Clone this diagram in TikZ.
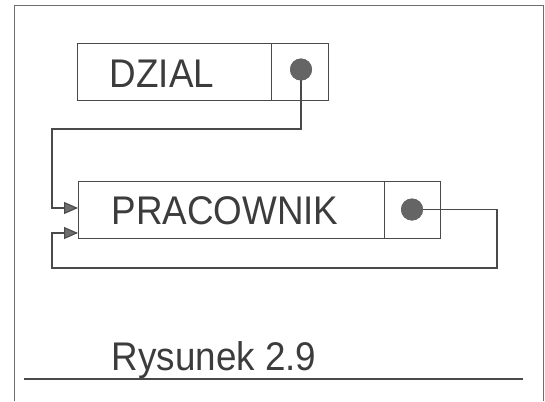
\documentclass[tikz,border=0pt]{standalone}
\usepackage{fontspec}
\newfontfamily\hv[FakeStretch=0.92]{Liberation Sans}
\usetikzlibrary{arrows.meta}
\definecolor{ink}{HTML}{4A4A4A}
\definecolor{txt}{HTML}{3C3C3C}
\tikzset{
  cell/.style={draw=ink, line width=1.3pt, rectangle, inner sep=0pt, anchor=north west},
  lbl/.style={font=\hv\fontsize{40}{40}\selectfont, text=txt, inner sep=0pt, anchor=base},
  dot/.style={circle, fill=ink!85, inner sep=0pt, minimum size=22pt},
  conn/.style={draw=ink, line width=1.1pt},
  arr/.style={conn, -{Triangle[length=14pt,width=12pt,fill=ink!80]}},
  frame/.style={draw=ink!80, line width=0.8pt}
}
\begin{document}
\begin{tikzpicture}[x=1pt,y=-1pt]
\useasboundingbox (0,0) rectangle (545,401);
% frame
\coordinate (fbl) at (14,401);
\coordinate (ftl) at (14,5);
\coordinate (ftr) at (543,5);
\coordinate (fbr) at (543,401);
\draw[frame] (fbl) -- (ftl) -- (ftr) -- (fbr);
% DZIAL
\node[cell, minimum width=194pt, minimum height=57pt] (dzial) at (77,43) {};
\node[cell, minimum width=57pt, minimum height=57pt] (dzialp) at (271,43) {};
\node[lbl] (dzialt) at (162,88) {DZIAL};
\node[dot] (dot1) at (301,69.5) {};
% PRACOWNIK
\node[cell, minimum width=306pt, minimum height=57pt] (prac) at (78,181) {};
\node[cell, minimum width=56pt, minimum height=57pt] (pracp) at (384,181) {};
\node[lbl] (pract) at (225,224.5) {PRACOWNIK};
\node[dot] (dot2) at (412,209.5) {};
% connectors
\coordinate (a1) at (301,129);
\coordinate (a2) at (52,129);
\coordinate (a3) at (52,208);
\draw[arr] (dot1.center) -- (a1) -- (a2) -- (a3) -- (a3 -| prac.west);
\coordinate (b1) at (497,209.5);
\coordinate (b2) at (497,268);
\coordinate (b3) at (52,268);
\coordinate (b4) at (52,233);
\draw[arr] (dot2.center) -- (b1) -- (b2) -- (b3) -- (b4) -- (b4 -| prac.west);
\node[dot] at (dot1) {};
\node[dot] at (dot2) {};
% caption
\node[lbl] (cap) at (214,370) {Rysunek 2.9};
\coordinate (u1) at (24,379);
\coordinate (u2) at (523,379);
\draw[conn] (u1) -- (u2);
\end{tikzpicture}
\end{document}
